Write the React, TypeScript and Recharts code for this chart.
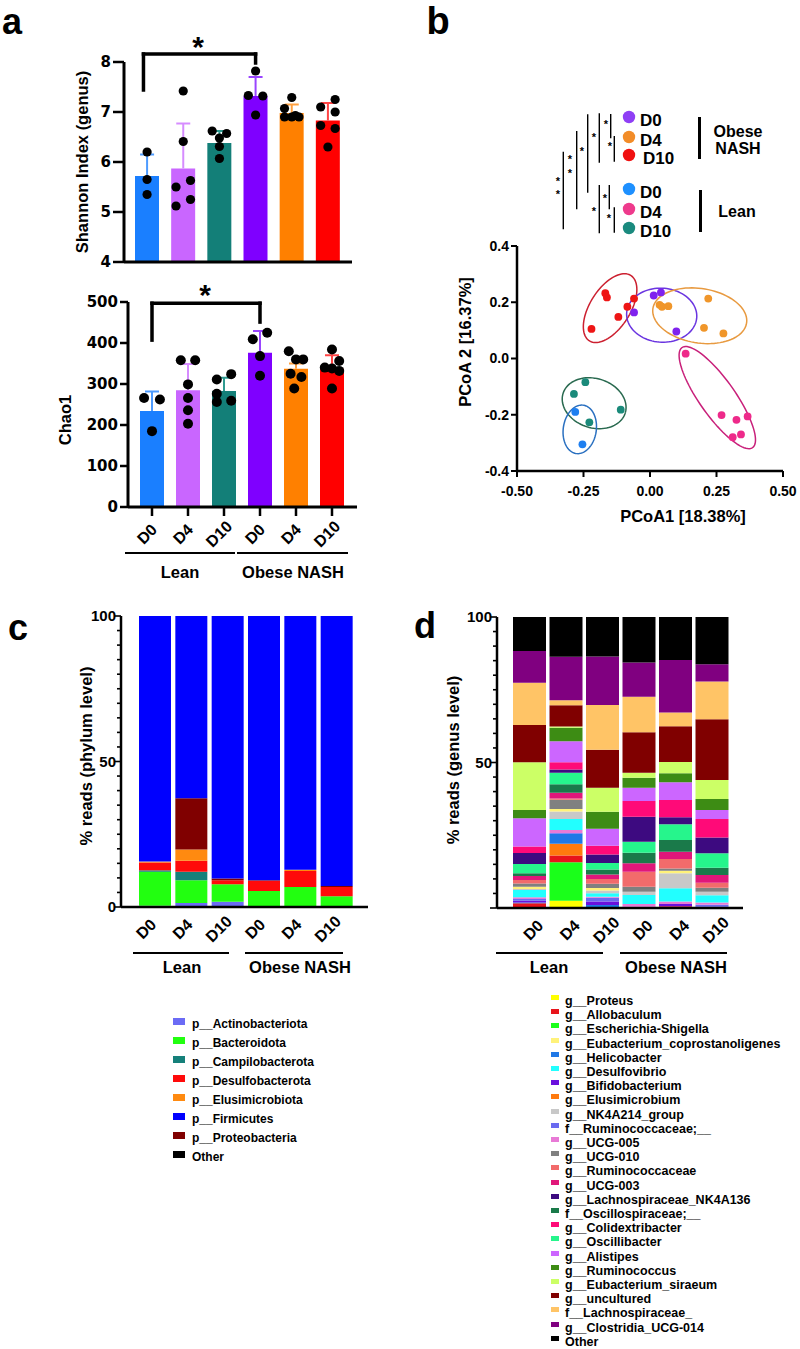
import React from 'react'
import {
  Bar,
  BarChart,
  Cell,
  ComposedChart,
  ReferenceLine,
  Scatter,
  ScatterChart,
  XAxis,
  YAxis,
} from 'recharts'

const SANS = '"Liberation Sans", Arial, Helvetica, sans-serif'
const WIDE = '"DejaVu Sans", Verdana, sans-serif'

// ---------- panel a : alpha diversity ----------
const GROUPS = ['Lean D0', 'Lean D4', 'Lean D10', 'Obese D0', 'Obese D4', 'Obese D10']
const BAR_COLORS = ['#1a7fff', '#c966ff', '#137f78', '#7f00ff', '#ff8000', '#ff0000']
const ERR_COLORS = ['#4d9bff', '#d68cff', '#2f9a90', '#9a45ff', '#ffa040', '#ff4545']

const SHANNON_TICKS = [4, 5, 6, 7, 8]
const SHANNON_MEAN = [5.72, 5.87, 6.38, 7.32, 6.98, 6.83]
const SHANNON_SD = [0.43, 0.9, 0.24, 0.38, 0.17, 0.35]
// [value, offset inside the bar (in bar slots)]
const SHANNON_PTS = [
  [[6.2, 0], [5.65, 0], [5.35, 0]],
  [[7.42, 0], [6.41, 0], [5.5, -0.2], [5.63, 0.2], [5.25, 0.2], [5.12, -0.2]],
  [[6.62, -0.2], [6.57, 0.2], [6.48, 0], [6.31, 0], [6.07, 0]],
  [[7.82, 0], [7.33, -0.2], [7.32, 0.2], [6.94, 0]],
  [[7.29, 0], [7.07, -0.2], [6.93, 0.1], [6.9, -0.2], [6.9, 0], [6.9, 0.2]],
  [[7.25, 0.2], [7.1, -0.2], [7.0, 0.2], [6.73, -0.2], [6.67, 0.2], [6.3, 0]],
]

const CHAO1_TICKS = [0, 100, 200, 300, 400, 500]
const CHAO1_MEAN = [234, 285, 283, 376, 337, 337]
const CHAO1_SD = [48, 64, 32, 53, 13, 33]
const CHAO1_PTS = [
  [[266, -0.22], [262, 0.22], [185, 0]],
  [[358, -0.2], [358, 0.2], [299, 0], [266, 0], [236, 0], [203, 0]],
  [[311, -0.2], [324, 0.2], [276, -0.2], [256, -0.2], [259, 0.2]],
  [[409, -0.2], [425, 0.2], [368, 0], [320, 0]],
  [[380, -0.2], [360, 0], [360, 0.2], [325, -0.15], [317, 0.15], [289, -0.05]],
  [[384, 0], [340, -0.2], [356, 0.2], [338, 0], [332, 0.2], [289, 0]],
]

// ---------- panel b : PCoA ----------
const PCOA_X_TICKS = [-0.5, -0.25, 0, 0.25, 0.5]
const PCOA_Y_TICKS = [-0.4, -0.2, 0, 0.2, 0.4]
const OBESE_D0 = [[0.014, 0.224], [0.041, 0.235], [-0.06, 0.164], [0.099, 0.096]]
const OBESE_D4 = [[0.036, 0.191], [0.045, 0.184], [0.069, 0.186], [0.219, 0.213], [0.203, 0.109], [0.276, 0.089]]
const OBESE_D10 = [[-0.168, 0.232], [-0.162, 0.217], [-0.119, 0.148], [-0.22, 0.105], [-0.06, 0.213], [-0.085, 0.184]]
const LEAN_D0 = [[-0.281, -0.19], [-0.254, -0.305]]
const LEAN_D4 = [[0.134, 0.017], [0.269, -0.201], [0.325, -0.218], [0.367, -0.206], [0.311, -0.28], [0.342, -0.27]]
const LEAN_D10 = [[-0.243, -0.084], [-0.286, -0.126], [-0.11, -0.182], [-0.228, -0.227]]
// confidence ellipses: centre x, centre y, semi-axis a, semi-axis b, angle (deg)
const ELLIPSES = [
  [-0.15, 0.179, 0.14, 0.074, 55],
  [0.044, 0.154, 0.132, 0.096, -3],
  [0.187, 0.152, 0.178, 0.097, -8],
  [0.253, -0.139, 0.222, 0.066, -53],
  [-0.21, -0.159, 0.122, 0.088, -15],
  [-0.264, -0.252, 0.087, 0.062, 80],
]
const PCOA_SETS = [OBESE_D10, OBESE_D0, OBESE_D4, LEAN_D4, LEAN_D10, LEAN_D0]
const PCOA_DOT = ['#ee1515', '#7f22ee', '#f0962a', '#ee2a8a', '#1a8a7a', '#1e7ff0']
const PCOA_RING = ['#cc2030', '#6a35e0', '#e89a40', '#c8207a', '#2a6a50', '#2a70c0']

// ---------- panel c : phylum ----------
const PHYLA = [
  'p__Actinobacteriota',
  'p__Bacteroidota',
  'p__Campilobacterota',
  'p__Desulfobacterota',
  'p__Elusimicrobiota',
  'p__Firmicutes',
  'p__Proteobacteria',
  'Other',
]
const PHYLA_COLORS = ['#6b6bf5', '#22ff10', '#15807a', '#ff0a0a', '#ff8a10', '#0000ff', '#800000', '#000000']
const PHYLA_PCT = [
  [0.4, 1.4, 1.8, 0.2, 0.2, 0.1],
  [11.7, 7.8, 6.0, 5.3, 6.7, 3.6],
  [0.5, 2.9, 0, 0, 0, 0],
  [2.7, 3.8, 1.4, 3.5, 5.5, 3.2],
  [0.3, 3.9, 0, 0, 0.4, 0],
  [84.4, 62.6, 90.2, 90.8, 87.2, 92.8],
  [0, 17.6, 0.6, 0.2, 0, 0.3],
  [0, 0, 0, 0, 0, 0],
]
const PHYLA_STACK = [0, 1, 2, 3, 4, 6, 5, 7]

// ---------- panel d : genus ----------
const GENERA = [
  'g__Proteus',
  'g__Allobaculum',
  'g__Escherichia-Shigella',
  'g__Eubacterium_coprostanoligenes',
  'g__Helicobacter',
  'g__Desulfovibrio',
  'g__Bifidobacterium',
  'g__Elusimicrobium',
  'g__NK4A214_group',
  'f__Ruminococcaceae;__',
  'g__UCG-005',
  'g__UCG-010',
  'g__Ruminococcaceae',
  'g__UCG-003',
  'g__Lachnospiraceae_NK4A136',
  'f__Oscillospiraceae;__',
  'g__Colidextribacter',
  'g__Oscillibacter',
  'g__Alistipes',
  'g__Ruminococcus',
  'g__Eubacterium_siraeum',
  'g__uncultured',
  'f__Lachnospiraceae_',
  'g__Clostridia_UCG-014',
  'Other',
]
const GENERA_COLORS = [
  '#ffff00', '#e8141b', '#1aff1a', '#fff27a', '#1f78e6', '#22ffff', '#6a10dd', '#ff7a0e',
  '#c8c8c8', '#6a6af0', '#e87ad6', '#808080', '#f26b6b', '#e0177a', '#3d0a80', '#1a7a4a',
  '#ff0a78', '#26f58c', '#cc66ff', '#3d8c14', '#ccff66', '#800000', '#ffc466', '#800080', '#000000',
]
const GENERA_PCT = [
  [0, 2.5, 0, 0, 0, 0],
  [1.6, 2.3, 0.2, 0, 0.6, 0],
  [0, 13.2, 0, 0, 0, 0],
  [0.8, 0.8, 0.9, 0, 0.9, 0],
  [0.3, 3.4, 0.8, 0, 0, 0],
  [2.5, 3.8, 1.2, 3.1, 4.6, 2.5],
  [0.6, 0, 1.2, 0.2, 0.8, 0.4],
  [0, 4.1, 0, 0, 0, 0],
  [0.3, 2.6, 0.9, 1.1, 5.1, 1.2],
  [0.6, 0.3, 1.3, 0.2, 0, 0.7],
  [0.6, 1.0, 0.4, 1.0, 0.8, 0.8],
  [1.1, 3.2, 1.4, 1.7, 0.8, 1.4],
  [1.2, 0.4, 1.7, 5.2, 3.2, 1.7],
  [1.4, 2.0, 1.5, 2.9, 2.5, 2.6],
  [3.8, 1.1, 2.9, 8.6, 2.4, 5.4],
  [0.9, 2.9, 1.7, 3.6, 4.1, 2.5],
  [2.2, 2.5, 3.0, 5.4, 5.9, 6.4],
  [3.2, 4.0, 2.3, 3.8, 5.4, 5.0],
  [9.7, 7.2, 5.8, 4.5, 6.1, 3.1],
  [2.9, 4.6, 5.9, 3.5, 3.1, 3.8],
  [16.4, 0.5, 8.2, 1.7, 3.9, 6.5],
  [12.8, 7.3, 13.1, 13.9, 12.3, 20.9],
  [14.5, 1.7, 15.4, 12.2, 4.7, 12.9],
  [10.9, 14.9, 16.6, 11.8, 18.0, 6.0],
  [11.7, 13.7, 13.6, 15.6, 14.8, 16.2],
]
// bottom -> top
const GENERA_STACK = [0, 2, 1, 7, 4, 6, 9, 10, 5, 8, 3, 11, 12, 13, 15, 17, 14, 16, 18, 19, 20, 21, 22, 23, 24]

const PCT_TICKS = [0, 5, 10, 15, 20, 25, 30, 35, 40, 45, 50, 55, 60, 65, 70, 75, 80, 85, 90, 95, 100]

// ---------- helpers ----------
function Txt({ x, y, size = 16, rot = 0, font = SANS, children }: any) {
  return (
    <div
      style={{
        position: 'absolute',
        left: x,
        top: y,
        fontFamily: font,
        fontSize: size,
        fontWeight: 700,
        lineHeight: 1.1,
        whiteSpace: 'nowrap',
        transform: `translate(-50%, -50%) rotate(${rot}deg)`,
      }}
    >
      {children}
    </div>
  )
}

function HLine({ x1, x2, y, w = 2.5 }: any) {
  return <div style={{ position: 'absolute', left: x1, top: y - w / 2, width: x2 - x1, height: w, background: '#000' }} />
}

const dayTick = (dx: number, dy: number) => (p: any) => {
  const cx = p.x + dx
  const cy = p.y + dy
  return (
    <text
      x={cx}
      y={cy}
      textAnchor="middle"
      dominantBaseline="central"
      transform={`rotate(-45 ${cx} ${cy})`}
      fontFamily={SANS}
      fontSize={16}
      fontWeight={700}
      fill="#000"
    >
      {String(p.payload.value).split(' ')[1]}
    </text>
  )
}

function ellipseOutline(e: number[]) {
  const [cx, cy, a, b, deg] = e
  const th = (deg * Math.PI) / 180
  const out = []
  for (let k = 0; k <= 90; k++) {
    const t = (k / 90) * Math.PI * 2
    const u = a * Math.cos(t)
    const v = b * Math.sin(t)
    out.push({ x: cx + u * Math.cos(th) - v * Math.sin(th), y: cy + u * Math.sin(th) + v * Math.cos(th) })
  }
  return out
}

const noShape = () => <g />

function AlphaChart({ left, top, width, height, margin, yWidth, xHeight, pad, domain, ticks, mean, sd, pts, bracket, days, ySize, yTick, xTick, dotR }: any) {
  const bars = GROUPS.map((g, i) => ({ g, mean: mean[i] }))
  const dots = pts.flatMap((list: number[][], i: number) => list.map(([v, dx]) => ({ x: i + dx, y: v })))
  const axis = { stroke: '#000', strokeWidth: 3 }
  return (
    <div style={{ position: 'absolute', left, top }}>
      <ComposedChart width={width} height={height} data={bars} margin={margin}>
        <XAxis
          xAxisId="c"
          dataKey="g"
          type="category"
          padding={pad}
          height={xHeight}
          interval={0}
          axisLine={axis}
          tickLine={{ stroke: '#000', strokeWidth: 2.5 }}
          tickSize={xTick}
          tickMargin={2}
          tick={days ? dayTick(-5, 16) : false}
        />
        <XAxis xAxisId="n" dataKey="x" type="number" domain={[-0.5, 5.5]} padding={pad} hide allowDataOverflow />
        <YAxis
          domain={domain}
          ticks={ticks}
          interval={0}
          width={yWidth}
          axisLine={axis}
          tickLine={{ stroke: '#000', strokeWidth: 2.5 }}
          tickSize={yTick}
          tickMargin={2}
          tick={{ fontFamily: WIDE, fontSize: ySize, fontWeight: 700, fill: '#000' }}
        />
        <Bar xAxisId="c" dataKey="mean" barSize={24} isAnimationActive={false}>
          {bars.map((b, i) => (
            <Cell key={b.g} fill={BAR_COLORS[i]} />
          ))}
        </Bar>
        {GROUPS.map((g, i) => (
          <Scatter
            key={g}
            xAxisId="n"
            dataKey="y"
            data={[
              { x: i, y: mean[i], cap: 0 },
              { x: i, y: mean[i] + sd[i], cap: 1 },
            ]}
            line={{ stroke: ERR_COLORS[i], strokeWidth: 2 }}
            shape={(p: any) =>
              p.payload.cap ? (
                <line x1={p.cx - 7} x2={p.cx + 7} y1={p.cy} y2={p.cy} stroke={ERR_COLORS[i]} strokeWidth={2} />
              ) : (
                <g />
              )
            }
            isAnimationActive={false}
          />
        ))}
        <Scatter
          xAxisId="n"
          dataKey="y"
          data={dots}
          shape={(p: any) => <circle cx={p.cx} cy={p.cy} r={dotR} fill="#000" />}
          isAnimationActive={false}
        />
        <ReferenceLine xAxisId="n" segment={[{ x: bracket.l, y: bracket.ly }, { x: bracket.l, y: bracket.top }]} stroke="#000" strokeWidth={3.5} strokeLinecap="square" ifOverflow="visible" />
        <ReferenceLine xAxisId="n" segment={[{ x: bracket.l, y: bracket.top }, { x: bracket.r, y: bracket.top }]} stroke="#000" strokeWidth={3.5} strokeLinecap="square" ifOverflow="visible" />
        <ReferenceLine xAxisId="n" segment={[{ x: bracket.r, y: bracket.top }, { x: bracket.r, y: bracket.ry }]} stroke="#000" strokeWidth={3.5} strokeLinecap="square" ifOverflow="visible" />
      </ComposedChart>
    </div>
  )
}

function PctTick({ x, y, payload, showZero }: any) {
  const v = payload.value
  const major = v % 50 === 0
  return (
    <g>
      <line x1={x - (major ? 7 : 4)} x2={x} y1={y} y2={y} stroke="#000" strokeWidth={1.6} />
      {major && (v !== 0 || showZero) && (
        <text x={x - 5} y={y} dy="0.36em" textAnchor="end" fontFamily={SANS} fontSize={15} fontWeight={700} fill="#000">
          {v}
        </text>
      )}
    </g>
  )
}

function StackChart({ left, top, width, height, margin, yWidth, pad, barSize, values, colors, order, showZero, dx }: any) {
  const rows = GROUPS.map((g, j) => {
    const r: any = { g }
    values.forEach((v: number[], i: number) => {
      r[`k${i}`] = v[j]
    })
    return r
  })
  const axis = { stroke: '#000', strokeWidth: 2.5 }
  return (
    <div style={{ position: 'absolute', left, top }}>
      <BarChart width={width} height={height} data={rows} margin={margin} barCategoryGap={0}>
        <XAxis dataKey="g" padding={pad} height={52} interval={0} axisLine={axis} tickLine={false} tickSize={0} tickMargin={0} tick={dayTick(dx, 22)} />
        <YAxis
          domain={[0, 100]}
          allowDataOverflow
          ticks={PCT_TICKS}
          interval={0}
          width={yWidth}
          axisLine={axis}
          tickLine={false}
          tickSize={0}
          tickMargin={0}
          tick={(p: any) => <PctTick {...p} showZero={showZero} />}
        />
        {order.map((i: number) => (
          <Bar key={i} dataKey={`k${i}`} stackId="s" fill={colors[i]} barSize={barSize} isAnimationActive={false} />
        ))}
      </BarChart>
    </div>
  )
}

// legend marks of panel b
const SIG_LINES = [
  [563.3, 151.7, 229.3], [576.7, 131, 209.3], [587.7, 114.3, 192.7], [599.3, 113.3, 162.7],
  [610.7, 114, 138.3], [614.3, 136, 161.7], [599.3, 185, 233.3], [609.3, 185, 209.3], [614.3, 207.3, 232.7],
]
const SIG_STARS = [
  [558, 181], [558, 194], [570, 159], [570, 173], [582, 151], [594, 137],
  [606, 124], [610, 146], [605, 198], [594, 211], [609, 218],
]
const PCOA_KEYS = [
  { label: 'D0', color: '#8f3ff5', y: 117 },
  { label: 'D4', color: '#f28c28', y: 137 },
  { label: 'D10', color: '#f01010', y: 155 },
  { label: 'D0', color: '#1e90ff', y: 189 },
  { label: 'D4', color: '#ee3a8c', y: 209 },
  { label: 'D10', color: '#1a8a7e', y: 228 },
]

export default function App() {
  const pcoaAxis = { stroke: '#000', strokeWidth: 2.5 }
  const pcoaTick = { fontFamily: SANS, fontSize: 14, fontWeight: 700, fill: '#000' }
  return (
    <div
      style={{
        position: 'absolute',
        left: 0,
        top: 0,
        width: 800,
        height: 1349,
        background: '#fff',
        fontFamily: SANS,
        color: '#000',
        overflow: 'hidden',
      }}
    >
      {/* panel a */}
      <Txt x={12} y={22} size={36}>a</Txt>
      <AlphaChart
        left={0}
        top={0}
        width={380}
        height={280}
        margin={{ top: 62, right: 28, bottom: 0, left: 0 }}
        yWidth={124}
        xHeight={18}
        pad={{ left: 5, right: 6 }}
        domain={[4, 8]}
        ticks={SHANNON_TICKS}
        mean={SHANNON_MEAN}
        sd={SHANNON_SD}
        pts={SHANNON_PTS}
        bracket={{ l: -0.1, r: 3, top: 8.16, ly: 7.44, ry: 7.98 }}
        days={false}
        ySize={15}
        yTick={11}
        xTick={10}
        dotR={4.6}
      />
      <Txt x={198} y={46} size={30}>*</Txt>
      <Txt x={82} y={162} size={16.5} rot={-90}>Shannon Index (genus)</Txt>

      <AlphaChart
        left={0}
        top={280}
        width={380}
        height={272}
        margin={{ top: 22, right: 23, bottom: 0, left: 0 }}
        yWidth={128}
        xHeight={45}
        pad={{ left: 6, right: 7 }}
        domain={[0, 500]}
        ticks={CHAO1_TICKS}
        mean={CHAO1_MEAN}
        sd={CHAO1_SD}
        pts={CHAO1_PTS}
        bracket={{ l: 0, r: 3, top: 497, ly: 407, ry: 451 }}
        days
        ySize={15}
        yTick={8}
        xTick={9}
        dotR={5}
      />
      <Txt x={205} y={294} size={30}>*</Txt>
      <Txt x={65} y={420} size={16.5} rot={-90}>Chao1</Txt>
      <HLine x1={125} x2={235} y={553} />
      <HLine x1={237} x2={348} y={553} />
      <Txt x={180} y={572} size={16.5}>Lean</Txt>
      <Txt x={293} y={572} size={16.5}>Obese NASH</Txt>

      {/* panel b */}
      <Txt x={438} y={22} size={38}>b</Txt>
      <svg style={{ position: 'absolute', left: 400, top: 100 }} width={400} height={140} viewBox="400 100 400 140">
        {SIG_LINES.map(([x, y1, y2], i) => (
          <line key={i} x1={x} x2={x} y1={y1} y2={y2} stroke="#000" strokeWidth={1.4} />
        ))}
        {SIG_STARS.map(([x, y], i) => (
          <text key={i} x={x} y={y + 4} textAnchor="middle" fontFamily={SANS} fontSize={11} fontWeight={700}>
            *
          </text>
        ))}
        {PCOA_KEYS.map((k, i) => (
          <g key={i}>
            <circle cx={629} cy={k.y} r={6.2} fill={k.color} />
            <text x={k.label === 'D10' && i < 3 ? 643 : 640} y={k.y + 3} dominantBaseline="central" fontFamily={SANS} fontSize={17} fontWeight={700}>
              {k.label}
            </text>
          </g>
        ))}
        <rect x={698} y={117} width={3} height={42} fill="#000" />
        <rect x={699} y={190} width={3} height={42} fill="#000" />
        <text x={738} y={131} textAnchor="middle" dominantBaseline="central" fontFamily={SANS} fontSize={16} fontWeight={700}>Obese</text>
        <text x={738} y={148} textAnchor="middle" dominantBaseline="central" fontFamily={SANS} fontSize={16} fontWeight={700}>NASH</text>
        <text x={737} y={211} textAnchor="middle" dominantBaseline="central" fontFamily={SANS} fontSize={16} fontWeight={700}>Lean</text>
      </svg>
      <div style={{ position: 'absolute', left: 400, top: 200 }}>
        <ScatterChart width={400} height={340} margin={{ top: 46, right: 17, bottom: 0, left: 0 }}>
          <XAxis
            dataKey="x"
            type="number"
            domain={[-0.5, 0.5]}
            ticks={PCOA_X_TICKS}
            interval={0}
            height={69}
            axisLine={pcoaAxis}
            tickLine={{ stroke: '#000', strokeWidth: 2 }}
            tickSize={6}
            tickMargin={9}
            tickFormatter={(v: number) => v.toFixed(2)}
            tick={pcoaTick}
          />
          <YAxis
            dataKey="y"
            type="number"
            domain={[-0.4, 0.4]}
            ticks={PCOA_Y_TICKS}
            interval={0}
            width={117}
            axisLine={pcoaAxis}
            tickLine={{ stroke: '#000', strokeWidth: 2 }}
            tickSize={6}
            tickMargin={2}
            tickFormatter={(v: number) => v.toFixed(1)}
            tick={pcoaTick}
          />
          {ELLIPSES.map((e, i) => (
            <Scatter
              key={`e${i}`}
              data={ellipseOutline(e)}
              line={{ stroke: PCOA_RING[i], strokeWidth: 1.5 }}
              lineType="joint"
              shape={noShape}
              isAnimationActive={false}
            />
          ))}
          {PCOA_SETS.map((set, i) => (
            <Scatter
              key={`p${i}`}
              data={set.map(([x, y]) => ({ x, y }))}
              shape={(p: any) => <circle cx={p.cx} cy={p.cy} r={3.9} fill={PCOA_DOT[i]} />}
              isAnimationActive={false}
            />
          ))}
        </ScatterChart>
      </div>
      <Txt x={465} y={342} size={16.5} rot={-90}>PCoA 2 [16.37%]</Txt>
      <Txt x={683} y={516} size={16.5}>PCoA1 [18.38%]</Txt>

      {/* panel c */}
      <Txt x={18} y={628} size={36}>c</Txt>
      <StackChart
        left={0}
        top={600}
        width={380}
        height={359}
        margin={{ top: 16, right: 12, bottom: 0, left: 0 }}
        yWidth={121}
        pad={{ left: 16, right: 13 }}
        barSize={32}
        values={PHYLA_PCT}
        colors={PHYLA_COLORS}
        order={PHYLA_STACK}
        showZero
        dx={-9}
      />
      <Txt x={86} y={756} size={16.5} rot={-90}>% reads (phylum level)</Txt>
      <HLine x1={133} x2={229} y={953} />
      <HLine x1={245} x2={343} y={953} />
      <Txt x={182} y={967} size={16.5}>Lean</Txt>
      <Txt x={300} y={967} size={16.5}>Obese NASH</Txt>
      {PHYLA.map((n, i) => (
        <div key={n} style={{ position: 'absolute', left: 173, top: 1016 + 19 * i, height: 16, display: 'flex', alignItems: 'center' }}>
          <span style={{ width: 12, height: 7, background: PHYLA_COLORS[i], marginRight: 7, marginTop: -5 }} />
          <span style={{ fontSize: 12, fontWeight: 700 }}>{n}</span>
        </div>
      ))}

      {/* panel d */}
      <Txt x={425} y={626} size={36}>d</Txt>
      <StackChart
        left={400}
        top={600}
        width={380}
        height={360}
        margin={{ top: 17, right: 37, bottom: 0, left: 0 }}
        yWidth={97}
        pad={{ left: 14, right: 13 }}
        barSize={33}
        values={GENERA_PCT}
        colors={GENERA_COLORS}
        order={GENERA_STACK}
        showZero={false}
        dx={4}
      />
      <Txt x={453} y={760} size={16.5} rot={-90}>% reads (genus level)</Txt>
      <HLine x1={496} x2={603} y={953} />
      <HLine x1={620} x2={727} y={953} />
      <Txt x={549} y={967} size={16.5}>Lean</Txt>
      <Txt x={676} y={967} size={16.5}>Obese NASH</Txt>
      {GENERA.map((n, i) => (
        <div key={n} style={{ position: 'absolute', left: 551, top: 1001 + 14.2 * i - 7, height: 14, display: 'flex', alignItems: 'center' }}>
          <span style={{ width: 8, height: 5, background: GENERA_COLORS[i], marginRight: 6, marginTop: -7 }} />
          <span style={{ fontSize: 12.5, fontWeight: 700 }}>{n}</span>
        </div>
      ))}
    </div>
  )
}
